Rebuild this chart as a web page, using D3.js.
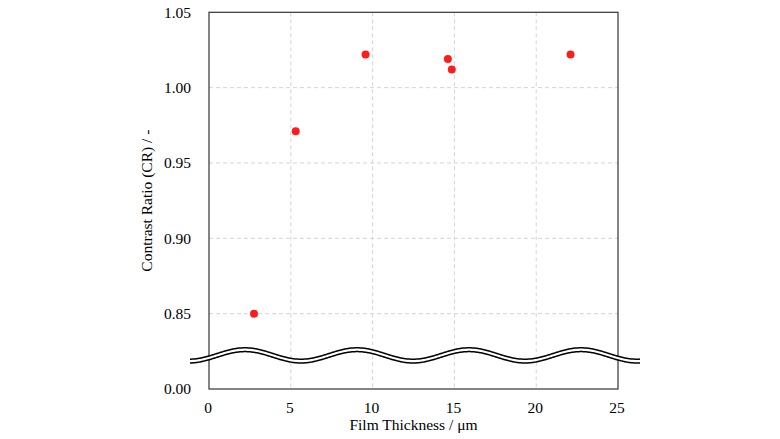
<!DOCTYPE html>
<html>
<head>
<meta charset="utf-8">
<script src="https://cdn.jsdelivr.net/npm/d3@7"></script>
<style>
  body { margin: 0; background: #fff; }
  svg { display: block; }
  text { font-family: "Liberation Serif", "Times New Roman", serif; }
</style>
</head>
<body>
<svg id="chart" width="780" height="439"></svg>
<script>
// film thickness (um) vs contrast ratio
const thickness = [2.75, 5.3, 9.57, 14.6, 14.84, 22.1];
const contrast = [0.850, 0.971, 1.022, 1.019, 1.012, 1.022];
const xTicks = [0, 5, 10, 15, 20, 25];
const yTicks = [0, 0.85, 0.90, 0.95, 1.00, 1.05];

const margin = {top: 12.3, right: 162, bottom: 50, left: 209};
const width = 780 - margin.left - margin.right;
const height = 439 - margin.top - margin.bottom;

const svg = d3.select('svg#chart');
const g = svg.append('g')
  .attr('transform', `translate(${margin.left}, ${margin.top})`);

const x = d3.scaleLinear().domain([0, 25]).range([0, width]);
// broken axis: 0 sits where 0.80 would be
const y = d3.scaleLinear().domain([0, 0.8, 1.05]).range([height, height, 0]);

// grid
g.append('g')
  .selectAll('line')
  .data(xTicks.slice(1, -1))
  .join('line')
    .attr('x1', d => x(d))
    .attr('x2', d => x(d))
    .attr('y1', 0)
    .attr('y2', height)
    .attr('stroke', '#d4d4d4')
    .attr('stroke-dasharray', '4 3');

g.append('g')
  .selectAll('line')
  .data(yTicks.slice(1, -1))
  .join('line')
    .attr('x1', 0)
    .attr('x2', width)
    .attr('y1', d => y(d))
    .attr('y2', d => y(d))
    .attr('stroke', '#d4d4d4')
    .attr('stroke-dasharray', '4 3');

// frame
g.append('rect')
  .attr('width', width)
  .attr('height', height)
  .attr('fill', 'none')
  .attr('stroke', '#333')
  .attr('stroke-width', 1.2);

// axes (labels only)
const xAxis = g.append('g')
  .attr('transform', `translate(0, ${height})`)
  .call(d3.axisBottom(x).tickValues(xTicks).tickSize(0).tickPadding(13));
xAxis.select('.domain').remove();
xAxis.selectAll('text')
  .attr('font-size', 15.5)
  .attr('fill', '#000')
  .attr('dx', -1.5)
  .style('font-family', '"Liberation Serif", serif');

const yAxis = g.append('g')
  .call(d3.axisLeft(y).tickValues(yTicks).tickSize(0).tickPadding(18)
    .tickFormat(d3.format('.2f')));
yAxis.select('.domain').remove();
yAxis.selectAll('text')
  .attr('font-size', 15.5)
  .attr('fill', '#000')
  .style('font-family', '"Liberation Serif", serif');

// axis break wave
const period = 112;
const amp = 5.7;
const phase = 245 - margin.left; // first crest
const wave = (offset) => d3.range(-19, width + 23, 1).map(px =>
  [px, offset - amp * Math.cos(2 * Math.PI * (px - phase) / period)]);
const upper = wave(353.5 - margin.top);
const lower = wave(357.3 - margin.top);
const line = d3.line();

g.append('path')
  .attr('d', line(upper.concat(lower.slice().reverse())) + 'Z')
  .attr('fill', '#fff');
[upper, lower].forEach(pts => {
  g.append('path')
    .attr('d', line(pts))
    .attr('fill', 'none')
    .attr('stroke', '#000')
    .attr('stroke-width', 1.5);
});

// points
g.append('g')
  .selectAll('circle')
  .data(thickness.map((t, i) => [t, contrast[i]]))
  .join('circle')
    .attr('cx', d => x(d[0]))
    .attr('cy', d => y(d[1]))
    .attr('r', 4)
    .attr('fill', '#ff1c1c');

// axis titles
svg.append('text')
  .attr('x', margin.left + width / 2)
  .attr('y', 430)
  .attr('text-anchor', 'middle')
  .attr('font-size', 15.5)
  .text('Film Thickness / μm');

svg.append('text')
  .attr('transform', `translate(152, ${margin.top + height / 2}) rotate(-90)`)
  .attr('text-anchor', 'middle')
  .attr('font-size', 15.5)
  .text('Contrast Ratio (CR) / -');
</script>
</body>
</html>
